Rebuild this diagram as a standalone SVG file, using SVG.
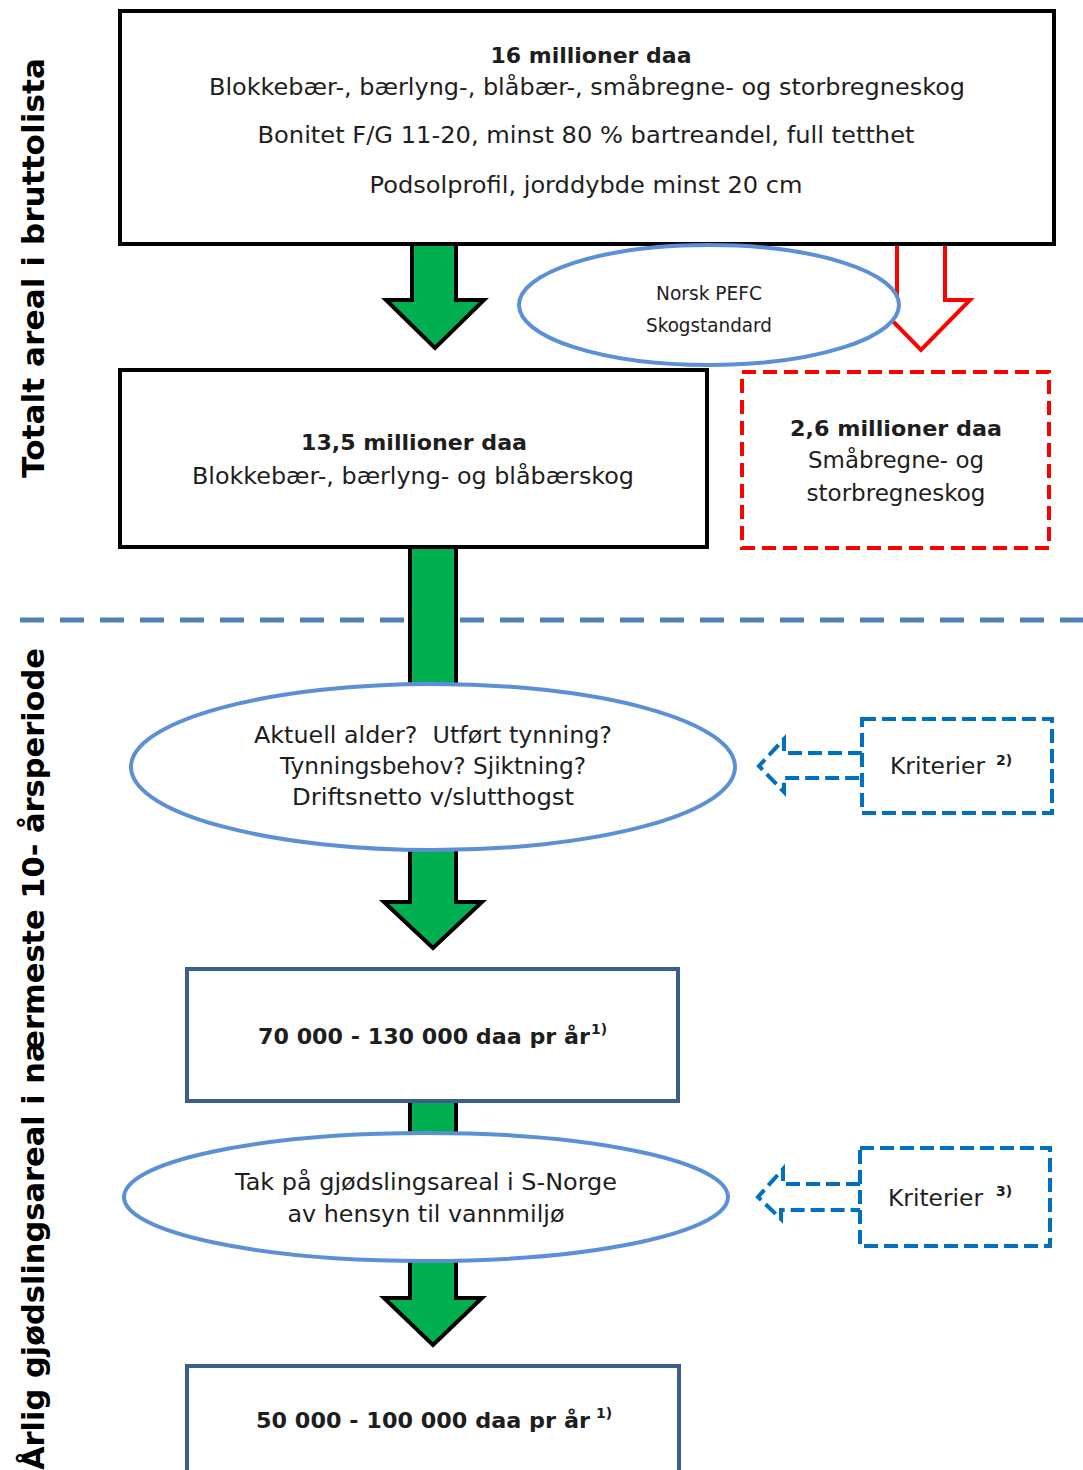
<svg xmlns="http://www.w3.org/2000/svg" width="1083" height="1470" viewBox="0 0 1083 1470">
<style>
.t{font-family:"DejaVu Sans",Verdana,sans-serif;fill:#1e1e1e;font-size:23px}
.b{font-weight:bold;font-size:21px}
.s{font-size:19px}
.sup{font-family:"DejaVu Sans",Verdana,sans-serif;fill:#1e1e1e;font-size:14px;font-weight:bold}
.lab{font-family:"DejaVu Sans",Verdana,sans-serif;fill:#000;font-size:31px;font-weight:bold}
.blk{fill:#fff;stroke:#000;stroke-width:4}
.nav{fill:#fff;stroke:#3b5e8c;stroke-width:4}
.ell{fill:#fff;stroke:#5b8fd6;stroke-width:4}
.grn{fill:#00b050;stroke:#000;stroke-width:4;stroke-linejoin:miter}
.krit{fill:#fff;stroke:#0070c0;stroke-width:4;stroke-dasharray:14 6}
</style>
<rect width="1083" height="1470" fill="#fff"/>

<g id="labels">
<text class="lab" transform="translate(44,268) rotate(-90)" text-anchor="middle" textLength="420" lengthAdjust="spacingAndGlyphs">Totalt areal i bruttolista</text>
<text class="lab" transform="translate(44,1059) rotate(-90)" text-anchor="middle" textLength="822" lengthAdjust="spacingAndGlyphs">Årlig gjødslingsareal i nærmeste 10- årsperiode</text>
</g>

<g id="divider">
<line x1="20" y1="620" x2="1095" y2="620" stroke="#4f81bd" stroke-width="5" stroke-dasharray="24 16"/>
</g>

<g id="connectors">
<path d="M897,244 V300 H872 L921,350 L970,300 H945 V244" fill="#fff" stroke="#ff0000" stroke-width="4"/>
<polygon class="grn" points="412,244 456,244 456,300 484,300 435,348 386,300 412,300"/>
<rect class="grn" x="410" y="545" width="46" height="142"/>
<polygon class="grn" points="410,849 456,849 456,902 482,902 433,948 384,902 410,902"/>
<rect class="grn" x="410" y="1099" width="46" height="38"/>
<polygon class="grn" points="410,1260 456,1260 456,1298 482,1298 433,1345 384,1298 410,1298"/>
<path class="krit" d="M862,753 H784 V739 L759,766 L784,792 V778 H862"/>
<path class="krit" d="M860,1184 H783 V1169 L758,1197 L781,1219 V1210 H860"/>
</g>

<g id="box-top">
<rect class="blk" x="120" y="11" width="934" height="233"/>
<text class="t b" x="591" y="63" text-anchor="middle" textLength="201" lengthAdjust="spacingAndGlyphs">16 millioner daa</text>
<text class="t" x="587" y="95" text-anchor="middle" textLength="756" lengthAdjust="spacingAndGlyphs">Blokkebær-, bærlyng-, blåbær-, småbregne- og storbregneskog</text>
<text class="t" x="586" y="143" text-anchor="middle" textLength="657" lengthAdjust="spacingAndGlyphs">Bonitet F/G 11-20, minst 80 % bartreandel, full tetthet</text>
<text class="t" x="586" y="193" text-anchor="middle" textLength="433" lengthAdjust="spacingAndGlyphs">Podsolprofil, jorddybde minst 20 cm</text>
</g>

<g id="pefc">
<ellipse class="ell" cx="709" cy="305" rx="190" ry="60"/>
<text class="t s" x="709" y="300" text-anchor="middle" textLength="106" lengthAdjust="spacingAndGlyphs">Norsk PEFC</text>
<text class="t s" x="709" y="332" text-anchor="middle" textLength="126" lengthAdjust="spacingAndGlyphs">Skogstandard</text>
</g>

<g id="box-13-5">
<rect class="blk" x="120" y="370" width="587" height="177"/>
<text class="t b" x="414" y="450" text-anchor="middle" textLength="226" lengthAdjust="spacingAndGlyphs">13,5 millioner daa</text>
<text class="t" x="413" y="484" text-anchor="middle" textLength="442" lengthAdjust="spacingAndGlyphs">Blokkebær-, bærlyng- og blåbærskog</text>
</g>

<g id="box-2-6">
<rect x="742" y="372" width="307" height="176" fill="#fff" stroke="#ff0000" stroke-width="4" stroke-dasharray="14 7"/>
<text class="t b" x="896" y="436" text-anchor="middle" textLength="212" lengthAdjust="spacingAndGlyphs">2,6 millioner daa</text>
<text class="t" x="896" y="468" text-anchor="middle" textLength="176" lengthAdjust="spacingAndGlyphs">Småbregne- og</text>
<text class="t" x="896" y="501" text-anchor="middle" textLength="179" lengthAdjust="spacingAndGlyphs">storbregneskog</text>
</g>

<g id="ellipse-alder">
<ellipse class="ell" cx="433" cy="767" rx="302" ry="83"/>
<text class="t" x="433" y="743" text-anchor="middle" textLength="358" lengthAdjust="spacingAndGlyphs">Aktuell alder?&#160; Utført tynning?</text>
<text class="t" x="433" y="774" text-anchor="middle" textLength="306" lengthAdjust="spacingAndGlyphs">Tynningsbehov? Sjiktning?</text>
<text class="t" x="433" y="805" text-anchor="middle" textLength="282" lengthAdjust="spacingAndGlyphs">Driftsnetto v/slutthogst</text>
</g>

<g id="kriterier-2">
<rect class="krit" x="862" y="719" width="190" height="94"/>
<text class="t" x="890" y="774" textLength="95" lengthAdjust="spacingAndGlyphs">Kriterier</text>
<text class="sup" x="996" y="765">2)</text>
</g>

<g id="box-70000">
<rect class="nav" x="187" y="969" width="491" height="132"/>
<text class="t b" x="258" y="1044" textLength="332" lengthAdjust="spacingAndGlyphs">70 000 - 130 000 daa pr år</text>
<text class="sup" x="591" y="1034">1)</text>
</g>

<g id="ellipse-tak">
<ellipse class="ell" cx="426" cy="1197" rx="302" ry="64"/>
<text class="t" x="426" y="1190" text-anchor="middle" textLength="382" lengthAdjust="spacingAndGlyphs">Tak på gjødslingsareal i S-Norge</text>
<text class="t" x="426" y="1222" text-anchor="middle" textLength="277" lengthAdjust="spacingAndGlyphs">av hensyn til vannmiljø</text>
</g>

<g id="kriterier-3">
<rect class="krit" x="860" y="1148" width="190" height="98"/>
<text class="t" x="888" y="1206" textLength="95" lengthAdjust="spacingAndGlyphs">Kriterier</text>
<text class="sup" x="996" y="1196">3)</text>
</g>

<g id="box-50000">
<rect class="nav" x="187" y="1366" width="492" height="120"/>
<text class="t b" x="256" y="1428" textLength="334" lengthAdjust="spacingAndGlyphs">50 000 - 100 000 daa pr år</text>
<text class="sup" x="596" y="1418">1)</text>
</g>
</svg>
